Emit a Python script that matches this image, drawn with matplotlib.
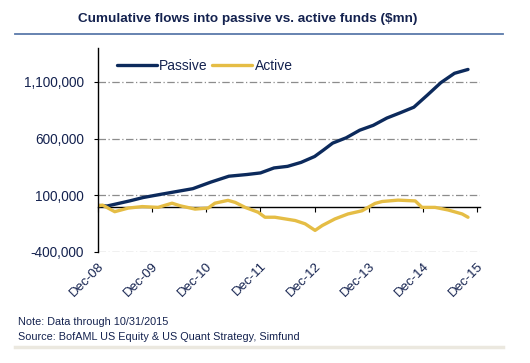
import numpy as np
import matplotlib
matplotlib.use("Agg")
import matplotlib.pyplot as plt
from matplotlib.lines import Line2D

plt.rcParams['font.family'] = ['Liberation Sans', 'DejaVu Sans']

## months counted from Dec-08, values in $mn
passive_m = [0, 2, 7, 10, 14, 18, 21, 25, 29, 33, 36, 39, 42, 45, 48, 50,
             52, 55, 58, 61, 64, 67, 70, 73, 76, 79, 82]
passive_v = [10000, 5000, 50000, 80000, 109000, 137000, 158000, 216000, 268000,
             283000, 297000, 341000, 355000, 390000, 442000, 500000, 560000,
             607000, 674000, 717000, 781000, 828000, 877000, 984000, 1094000,
             1176000, 1210000]

active_m = [0, 1, 3.7, 6.7, 9.8, 13.3, 16.4, 18.2, 21.5, 24.4, 25.9, 28.8, 30.4,
            32.6, 35.5, 37, 39.2, 43.7, 45.9, 48.1, 49.7, 52.5, 55.4, 58.5, 61.4,
            63, 66.5, 70.3, 71.8, 74.7, 77.6, 80.7, 82]
active_v = [7000, 13000, -45000, -13000, 0, -7000, 30000, 7000, -22000, -13000,
            30000, 55000, 37000, -7000, -50000, -94000, -94000, -123000, -152000,
            -210000, -167000, -109000, -65000, -37000, 28000, 45000, 57000, 50000,
            -7000, -7000, -30000, -65000, -94000]

xtick_m = [0, 12, 24, 36, 48, 60, 72, 84]
xtick_lab = ['Dec-08', 'Dec-09', 'Dec-10', 'Dec-11', 'Dec-12', 'Dec-13', 'Dec-14', 'Dec-15']
ytick_v = [-400000, 100000, 600000, 1100000]

navy = '#0c2a5c'
gold = '#e5bd45'
txt = '#14224f'

fig = plt.figure(figsize=(5.30, 3.63), dpi=100)
ax = fig.add_axes([0.185, 0.306, 0.721, 0.562])

ax.plot(passive_m, passive_v, color=navy, lw=2.4, label='Passive', solid_capstyle='round')
ax.plot(active_m, active_v, color=gold, lw=2.4, label='Active', solid_capstyle='round')

ax.set_xlim(0, 84.7)
ax.set_ylim(-400000, 1400000)
ax.set_yticks(ytick_v)
ax.set_yticklabels(['{:,}'.format(v) for v in ytick_v], color=txt, fontsize=9.8)
ax.set_xticks(xtick_m)
ax.set_xticklabels(xtick_lab, rotation=45, ha='right', rotation_mode='anchor',
                   color=txt, fontsize=9.5)
ax.tick_params(axis='x', length=0, pad=6)
ax.tick_params(axis='y', length=3, width=0.8, color='black', pad=7)
ax.grid(axis='y', color='#8c8c8c', lw=0.9, dashes=(6, 2, 1, 2))
ax.set_axisbelow(True)
for s in ['top', 'right', 'bottom']:
    ax.spines[s].set_visible(False)
ax.spines['left'].set_linewidth(1.0)

# zero line with ticks
zero_pos = (0 - (-400000)) / (1400000 - (-400000))
sec = ax.secondary_xaxis(zero_pos)
sec.set_xticks(xtick_m)
sec.set_xticklabels([])
sec.tick_params(length=3.5, width=0.8, direction='out')
sec.spines['bottom'].set_linewidth(1.0)

leg = ax.legend(loc='upper left', ncol=2, frameon=False, fontsize=10,
                handlelength=2.9, handletextpad=0.15, columnspacing=0.3,
                bbox_to_anchor=(0.035, 0.975), borderaxespad=0)
for t in leg.get_texts():
    t.set_color(txt)

fig.text(0.467, 0.948, r'Cumulative flows into passive vs. active funds (\$mn)',
         ha='center', va='center', fontsize=9.7, fontweight='bold', color=txt)
fig.add_artist(Line2D([0.028, 0.949], [0.906, 0.906], color='#5a7aaa', lw=1.3))
fig.add_artist(Line2D([0.028, 0.949], [0.044, 0.044], color='#ebe8df', lw=2.5))
fig.text(0.034, 0.112, 'Note: Data through 10/31/2015', fontsize=7.8, color=txt, va='center')
fig.text(0.034, 0.071, 'Source: BofAML US Equity & US Quant Strategy, Simfund',
         fontsize=7.8, color=txt, va='center')

fig.savefig('out.png', dpi=100)
